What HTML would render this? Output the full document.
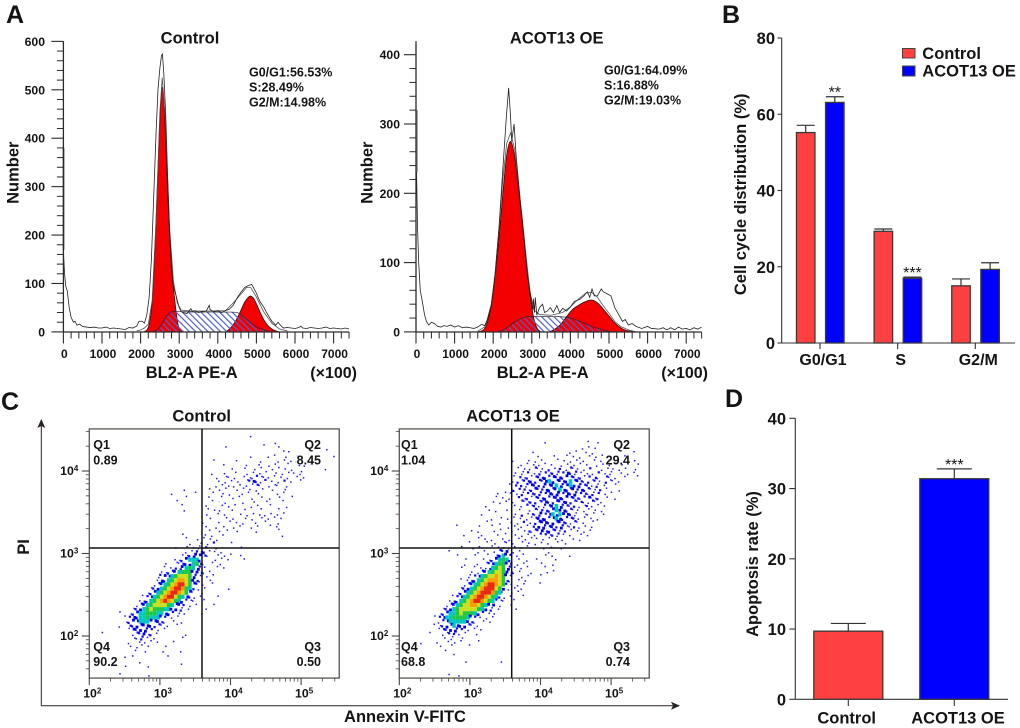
<!DOCTYPE html>
<html lang="en">
<head>
<meta charset="utf-8">
<title>ACOT13 OE cell cycle and apoptosis</title>
<style>
html,body{margin:0;padding:0;background:#fff;}
svg{display:block;filter:blur(0.35px);}
text{font-family:"Liberation Sans",Arial,sans-serif;font-weight:bold;fill:#141414;}
</style>
</head>
<body>
<svg id="fig" xmlns="http://www.w3.org/2000/svg" width="1020" height="728" viewBox="0 0 1020 728">
<defs>
<pattern id="sHatch" patternUnits="userSpaceOnUse" width="4.4" height="4.4" patternTransform="rotate(-45)">
<rect width="1.2" height="4.4" fill="#4f5fc8"/>
</pattern>
<marker id="arrowHead" markerWidth="9" markerHeight="9" refX="8" refY="4" orient="auto" markerUnits="userSpaceOnUse">
<path d="M0,0 L9,4 L0,8 L2,4 Z" fill="#2a2420"/>
</marker>
</defs>
<rect width="1020" height="728" fill="#fff"/>

<text x="6" y="23" font-size="25">A</text>
<text x="722" y="23" font-size="25">B</text>
<text x="1" y="410" font-size="25">C</text>
<text x="725" y="407" font-size="25">D</text>

<text x="190" y="43.5" font-size="16.5" text-anchor="middle">Control</text>
<text x="556.7" y="43.5" font-size="16.5" text-anchor="middle">ACOT13 OE</text>
<text transform="translate(18.5,172.7) rotate(-90)" font-size="16.5" text-anchor="middle">Number</text>
<text transform="translate(372.7,172.7) rotate(-90)" font-size="16.5" text-anchor="middle">Number</text>
<text x="191.7" y="378" font-size="16.5" text-anchor="middle">BL2-A PE-A</text>
<text x="542.7" y="378" font-size="16.5" text-anchor="middle">BL2-A PE-A</text>
<text x="357" y="378" font-size="16" text-anchor="end">(×100)</text>
<text x="708" y="378" font-size="16" text-anchor="end">(×100)</text>

<g font-size="12.5">
<text x="249" y="76.7">G0/G1:56.53%</text>
<text x="249" y="91.7">S:28.49%</text>
<text x="249" y="106.7">G2/M:14.98%</text>
</g>
<g font-size="12.5">
<text x="604" y="74.7">G0/G1:64.09%</text>
<text x="604" y="89.7">S:16.88%</text>
<text x="604" y="104.7">G2/M:19.03%</text>
</g>

<text x="201.7" y="421.7" font-size="16.5" text-anchor="middle">Control</text>
<text x="513" y="421.7" font-size="16.5" text-anchor="middle">ACOT13 OE</text>
<text transform="translate(29,547) rotate(-90)" font-size="16.5" text-anchor="middle">PI</text>
<text x="405" y="722" font-size="16.5" text-anchor="middle">Annexin V-FITC</text>
<line x1="41.3" y1="705.7" x2="41.3" y2="420" stroke="#2a2420" stroke-width="1" marker-end="url(#arrowHead)"/>
<line x1="41.3" y1="705.7" x2="679" y2="705.7" stroke="#2a2420" stroke-width="1" marker-end="url(#arrowHead)"/>

<text transform="translate(746,194.3) rotate(-90)" font-size="16.5" text-anchor="middle">Cell cycle distribution (%)</text>
<g>
<rect x="902.5" y="48.5" width="12.5" height="9.5" fill="#ff4040" stroke="#444" stroke-width="1"/>
<text x="922.3" y="59" font-size="16.5">Control</text>
<rect x="902.5" y="66" width="12.5" height="10" fill="#0000ff" stroke="#444" stroke-width="1"/>
<text x="922.3" y="76.7" font-size="16.5">ACOT13 OE</text>
</g>
<text transform="translate(758,564) rotate(-90)" font-size="16.5" text-anchor="middle">Apoptosis rate (%)</text>
</svg>

<script>
// ---------- Panel A: histogram data (channel ×100, cell count) ----------
const histXTicks = [0, 1000, 2000, 3000, 4000, 5000, 6000, 7000];
const histControlYTicks = [0, 100, 200, 300, 400, 500, 600];
const histAcotYTicks = [0, 100, 200, 300, 400];

const controlMeasured = [[0,170],[30,120],[60,95],[100,85],[150,50],[200,30],[260,20],[300,22],[350,14],[420,16],[500,11],[600,10],[700,9],[800,10],[900,8],[1000,8],[1100,10],[1200,7],[1300,8],[1400,7],[1500,6],[1600,5],[1700,9],[1800,8],[1900,12],[1960,22],[2040,22],[2100,18],[2160,35],[2220,70],[2280,150],[2340,280],[2400,410],[2450,500],[2500,545],[2540,570],[2565,575],[2600,535],[2650,450],[2700,320],[2750,210],[2800,140],[2840,100],[2880,85],[2920,75],[2960,62],[3000,50],[3050,42],[3100,40],[3200,38],[3300,48],[3350,42],[3400,44],[3500,40],[3600,42],[3700,43],[3780,55],[3800,46],[3900,42],[4000,44],[4100,40],[4200,44],[4300,47],[4400,55],[4500,70],[4600,82],[4700,92],[4800,96],[4880,98],[4920,92],[5000,80],[5050,70],[5100,62],[5200,50],[5250,42],[5300,35],[5400,22],[5500,14],[5560,20],[5620,14],[5700,8],[5800,9],[5900,8],[6000,7],[6100,9],[6150,12],[6200,8],[6300,7],[6400,9],[6500,8],[6600,7],[6700,8],[6800,10],[6900,7],[7000,8],[7100,7],[7200,6],[7300,8],[7400,6]];
const controlFit = [[1900,2],[2000,4],[2100,8],[2200,16],[2300,65],[2400,230],[2500,455],[2560,525],[2640,440],[2750,215],[2850,105],[2950,60],[3050,45],[3300,43],[3800,43],[4200,44],[4400,60],[4600,78],[4750,92],[4850,92],[5000,72],[5200,40],[5400,18],[5600,6],[5800,2]];
const controlG1 = [[2060,0],[2150,3],[2220,15],[2300,62],[2360,150],[2420,270],[2480,400],[2530,485],[2565,505],[2600,480],[2650,400],[2700,290],[2760,190],[2820,115],[2880,70],[2930,35],[2980,12],[3050,2],[3100,0]];
const controlS = [[2300,0],[2420,4],[2520,12],[2620,26],[2720,37],[2820,42],[3000,42],[3400,41],[3800,41],[4200,41],[4500,40],[4650,32],[4800,22],[4950,13],[5100,7],[5250,3],[5400,0]];
const controlG2 = [[4200,0],[4300,6],[4400,15],[4500,28],[4600,45],[4700,62],[4800,72],[4850,74],[4920,70],[5000,58],[5100,40],[5200,24],[5300,13],[5400,6],[5500,2],[5600,0]];
const controlDebris = [[5,170],[5,380]];

const acotMeasured = [[15,230],[40,150],[70,100],[110,60],[160,45],[220,25],[270,15],[330,10],[400,14],[480,12],[560,8],[650,7],[720,9],[800,8],[900,10],[1000,7],[1100,9],[1200,6],[1300,7],[1400,6],[1500,5],[1600,7],[1700,11],[1780,9],[1850,18],[1950,38],[2050,85],[2150,150],[2250,235],[2340,310],[2400,352],[2450,310],[2480,275],[2540,300],[2600,250],[2700,190],[2800,135],[2880,85],[2960,55],[3020,32],[3040,48],[3070,28],[3090,50],[3130,24],[3200,35],[3280,40],[3330,28],[3400,30],[3480,35],[3560,28],[3650,38],[3720,28],[3800,34],[3900,30],[4000,36],[4100,44],[4250,47],[4350,52],[4440,58],[4500,50],[4560,62],[4620,52],[4700,52],[4800,62],[4850,58],[4950,55],[5050,52],[5150,35],[5250,25],[5350,15],[5420,18],[5500,10],[5600,12],[5700,8],[5850,5],[6000,8],[6100,5],[6300,4],[6400,6],[6500,3],[6600,6],[6700,3],[6800,7],[6900,4],[7000,5],[7100,3],[7200,6],[7300,4],[7400,7]];
const acotFit = [[1600,1],[1800,8],[1950,40],[2050,82],[2150,150],[2250,220],[2350,272],[2450,287],[2550,265],[2650,215],[2750,165],[2850,110],[2950,60],[3050,32],[3200,25],[3500,24],[3800,28],[4000,36],[4200,47],[4400,56],[4550,57],[4700,50],[4850,38],[5000,27],[5150,15],[5300,8],[5500,3],[5700,0]];
const acotG1 = [[1600,0],[1750,3],[1850,14],[1950,38],[2050,80],[2150,135],[2250,200],[2350,255],[2450,275],[2550,255],[2650,210],[2750,160],[2850,105],[2950,55],[3050,20],[3150,4],[3250,0]];
const acotS = [[2100,0],[2300,4],[2500,12],[2700,19],[2900,22],[3300,22],[3700,22],[4000,20],[4300,14],[4600,7],[4900,2],[5100,0]];
const acotG2 = [[3450,0],[3600,4],[3750,11],[3900,22],[4050,32],[4200,38],[4400,44],[4550,46],[4700,42],[4850,33],[5000,23],[5150,13],[5300,6],[5450,2],[5650,0]];
const acotDebris = [[20,230],[20,320]];

// ---------- Panel B / D: bar data ----------
const cycleCategories = ['G0/G1', 'S', 'G2/M'];
const cycleControl = [55.2, 29.3, 15.0];
const cycleAcot = [63.1, 17.0, 19.3];
const cycleControlErr = [1.9, 0.6, 1.8];
const cycleAcotErr = [1.5, 0.3, 1.75];
const cycleStars = ['', '', ''];
const cycleAcotStars = ['**', '***', ''];
const cycleYTicks = [0, 20, 40, 60, 80];

const apoptosisCategories = ['Control', 'ACOT13 OE'];
const apoptosisValues = [9.7, 31.4];
const apoptosisErr = [1.1, 1.4];
const apoptosisStars = ['', '***'];
const apoptosisYTicks = [0, 10, 20, 30, 40];

// ---------- Panel C: flow-cytometry density bins ----------
// Each row spans log10(PI) 0.05 decades, from 4.5 downward; each char spans
// log10(Annexin) 0.05 decades from 2.0. . empty, 0 pale, 1 sparse ... 8 peak density.
const flowExponentsX = [2, 3, 4, 5];
const flowExponentsY = [2, 3, 4];
const controlQuadrants = [['Q1','0.89'],['Q2','8.45'],['Q4','90.2'],['Q3','0.50']];
const acotQuadrants = [['Q1','1.04'],['Q2','29.4'],['Q4','68.8'],['Q3','0.74']];
const controlDensity = [
"",
".......... .......... .......... .......... .....1",
"",
".......... .......... .......... .......... .........1 ..1",
".......... .......... .......... ........1. .......... ...1...... .......1",
".......... .......... .......... .......... .......... .....11...",
".......... .......... .......... .......... .....1.... 1.1..1..00 .........1",
".......... .......... .......... .....1.... .1......1. ...1.1.100 00",
".......... .......... .......... ........1. ....1...1. 1.1...1..1 1000",
".......... .......... .......... .......... 1...1.1.1. .1.1.1.1.. ......1",
".......... .......... .......... ....1...1. .1..1.1.1. 1.1.1.11.1 1",
".......... .......... .......... ......1.11 .1.1.11211 1.1.1.1.1. 1",
".......... .......... .......... ......1.1. 1.1.123212 .1.1.2.1.1",
".......... .......... .......... .....1.1.1 1.1.1.121. 1.11.1....",
".......... .......... ......1... ....1.1.1. .1.1.1.1.1 .1...1....",
".......... .......... ...1...... 1....1.1.1 ...1.1.1.. ...1.1....",
".......... .......... .......1.. ...1...1.. 1.1...1.1. .1.1...1..",
".......... .......... ....1..... ....1.0.1. ...1..1... 1...1.....",
".......... .......... ......1... ...1.0.1.1 .1...1.1.. .1...1....",
".......... .......... ......1... ...1.11... 1...1...1. ...1......",
".......... .......... .......... ...1..1.1. ..1.1.1.11 .1.1.1....",
".......... .......... .......... ....1...1. 1...1.1.1. 1.1.1.....",
".......... .......... .......... ..1...1..1 .1.1...1.1 ...1......",
".......... .......... .......... ...1.1..1. 1.1..1.1.. .1.1......",
".......... .......... .......... ....1.1..1 .1.....1.. ...1......",
".......... .......... ......1... ..1.1..1.. .......... ....1.....",
".......... .......... .......1.. 1.1.1.1... ..........",
".......... .......... ........1. .1.1.2.... 1.........",
".......... .......... ....1..1.1 11.2.1.... ...1",
".......... .......... .......1.1 223.11.1.. .",
".......... .......... ......1123 3321..1.1. 1.1",
".......... .......... ....112344 43...1.1.1 ...1",
".......... .......... .1..112334 521.1..1..",
".......... .......... .1.1223454 321...1.1.",
".......... .......... 1122345553 321.1.....",
".......... .........1 2334566653 21.1.1....",
".......... .........1 3345677653 21..1.....",
".......... ........12 3456788653 2.1.1.....",
".......... .......123 4567887542 1.1......1",
".......... ......1234 5678876531 .1.......",
".......... .....12345 6788654321 .1....1",
".......... ....123456 7876543211 ..1",
".......... ...1234566 6654332.1. 1....1",
".......... ..12345655 5443321.1. ...1",
"........1. .123445554 4332.11... .1",
".......... 1233445444 32.1.1....",
".......... 1233444333 21.1..1...",
"........1. .223333322 1.1.1.....",
".......... .1323322.1 .1....",
"...1...... ..122312.1 .......1..",
".......... ..11221.1. ......1",
".......... .1..11.1.1 ...1...",
".......... .1.11.1... .1",
".......... ...1.1.... 1....1..",
".......... ..1....... ..1..",
".......... 1......... .......",
".......... ....1..... ......1",
".......... 1.....1...",
"",
"........1. ......1..."
];
const acotDensity = [
"",
"",
".......... .......... .......... .......... .......... ...1",
".......... .......... .......... .......... .1........ ......1",
".......... .......... .......... .......... .......... .1.1.1..",
".......... .......... .......... .......1.. ........1. 1.1.1..... ......1",
".......... .......... .......... .........1 ...1...1.1 .1.1.1.1.0 0..1",
".......... .......... .......... ..1...1.1. 1...1.1.1. 1.1..1.1.1 0000..1",
".......... .......... .......... ....1.1.11 .1.1.1.1.1 .1.1.1.1.1 .1.1...1",
".......... .......... .......... ...1.11.21 1.2.12.121 1.1.2..1.1 1.1.1.1",
".......... .......... .......... ..1.112.12 1212122321 21.11.2.11 1.1.1.1",
".......... .......... .......... ..1.212122 2323232322 1212.21.21 .1.1...1",
".......... .......... .......... ..12122322 2343232342 3212121.21 1.1",
".......... .......... .......... .1.2212322 2323432343 3222121.1. .1",
".......... .......... .......... .12.221232 2332343323 2322112.1. ..1",
".......... .......... .......1.. 11.1212222 2232332323 2221212.1. 1",
".......... .......... .......1.1 .1.2.12122 2323232322 2123112.1. .1",
".......... .......... ......1.1. 1.1.211221 2322322322 121121.1..",
".......... .......... ....1..... ..1.1.2121 1223432212 1.121.1.1.",
".......... .......... .....1.1.. 1...1.1.21 2223433221 1.11.1.1..",
".......... .......... ...1...... ..1.2.1212 3234343321 1.11.1.1..",
".......... .......... ......1.1. 1.1.1.1123 2323432222 1.1.1.1...",
".......... .......... ....1...1. .1.1.2.123 3323332212 1.1.1.....",
".......... ......1... ..1...1... 1.1.1.1.23 3223232112 1.1.1.....",
".......... .......... 1.1...1.1. .1.1.12122 3232212.1. 1.1.1...",
".......... ........1. ...1...1.. 1.1.1.1.1. 2212121.1. .1.1....",
".......... .......... ..1.1.1..1 .1.1.1.11. 1.1.1.1..1 .1......",
".......... .........1 ....1..1.1 1.1.1.1.1. 1.1.1..1.. ........",
".......... .......1.. 1.1...1.11 1.1.1.1... 1..1.1....",
".......... ....1..... ..1.1.1.22 3.1.1..... ..1....",
".......... ......1... .1...1.234 32.1.1.... .1.1....1.",
".......... ........1. ...1.12345 42.1..1.1. ....1",
".......... ........1. ..1.123455 32.1.1.... 1..1",
".......... .......1.. .1.1134565 321.1.1... .1",
".......... .......... 1.12345665 321.1..1.. .1.1",
".......... .........1 1234566765 31..1.1... 1",
".......... .......1.1 2345677765 21.1.1....",
".......... ........12 3456788765 21.1.1...1",
".......... .......123 4567888653 1.1.1.....",
".......... ......1234 5678887541 .1.1......",
".......... .....12345 6788765421 .1...1",
".......... ....123456 7887654211 ..1",
".......... ...1234566 7765433.1. .1",
".......... ..12345666 6654321.1. ...1",
".......... .123445655 5432.11...",
".......... 1234455554 321.1.1...",
".......... .123444443 21.1.1....",
".........1 .123343332 1.1...",
".......... .1223322.1 .1.1...",
"........1. ..11221.1. .1",
".......... ..1.11.1..",
"......1... 1..1.1.1.. ..1",
".......... .1..1....1",
".......... ...1......",
".......... .....1....",
"",
".......... ........1. ........1.",
"",
"",
".......... ....1.1..."
];

// ---------- helpers ----------
const svg = document.getElementById('fig');
const NS = 'http://www.w3.org/2000/svg';
function add(tag, attrs, parent, name) {
  const el = document.createElementNS(NS, tag);
  for (const k in attrs) el.setAttribute(k, attrs[k]);
  
  
  (parent || svg).appendChild(el);
  return el;
}
function label(parent, name, x, y, str, size, anchor, weight) {
  const t = add('text', {x: x, y: y, 'font-size': size, 'text-anchor': anchor}, parent, name);
  if (weight) t.style.fontWeight = weight;
  t.textContent = str;
  return t;
}
function pathOf(points, sx, sy, close) {
  return points.map((p, i) => (i ? 'L' : 'M') + sx(p[0]).toFixed(2) + ',' + sy(p[1]).toFixed(2)).join(' ') + (close ? ' Z' : '');
}
function smoothPathOf(points, sx, sy) {
  const pts = points.map(p => [sx(p[0]), sy(p[1])]);
  let d = 'M' + pts[0][0].toFixed(2) + ',' + pts[0][1].toFixed(2);
  for (let i = 0; i < pts.length - 1; i++) {
    const p0 = pts[Math.max(i - 1, 0)], p1 = pts[i], p2 = pts[i + 1], p3 = pts[Math.min(i + 2, pts.length - 1)];
    const c1x = p1[0] + (p2[0] - p0[0]) / 6, c1y = p1[1] + (p2[1] - p0[1]) / 6;
    const c2x = p2[0] - (p3[0] - p1[0]) / 6, c2y = p2[1] - (p3[1] - p1[1]) / 6;
    d += ' C' + c1x.toFixed(2) + ',' + c1y.toFixed(2) + ' ' + c2x.toFixed(2) + ',' + c2y.toFixed(2) + ' ' + p2[0].toFixed(2) + ',' + p2[1].toFixed(2);
  }
  return d + ' Z';
}

// ---------- histogram panels ----------
function drawHist(cfg) {
  const g = add('g', {}, svg, cfg.name);
  const sx = v => cfg.x0 + v * 0.0386;
  const sy = v => 331.9 - v * cfg.yScale;
  add('path', {d: smoothPathOf(cfg.g1, sx, sy), fill: '#f50000', stroke: '#301010', 'stroke-width': 0.8}, g, 'g1-peak');
  add('path', {d: smoothPathOf(cfg.g2, sx, sy), fill: '#f50000', stroke: '#301010', 'stroke-width': 0.8}, g, 'g2-peak');
  add('path', {d: smoothPathOf(cfg.s, sx, sy), fill: 'url(#sHatch)', stroke: '#2a2040', 'stroke-width': 0.7}, g, 's-phase-hatch');
  add('path', {d: pathOf(cfg.fit, sx, sy, false), fill: 'none', stroke: '#555', 'stroke-width': 0.8}, g, 'model-fit-line');
  add('path', {d: pathOf(cfg.measured, sx, sy, false), fill: 'none', stroke: '#222', 'stroke-width': 0.8}, g, 'measured-line');
  add('path', {d: pathOf(cfg.debris, sx, sy, false), fill: 'none', stroke: '#8a8a8a', 'stroke-width': 2}, g, 'debris-spike');

  const axisColor = '#2a2a2a';
  add('line', {x1: sx(0), x2: sx(0), y1: 41.3, y2: 332, stroke: axisColor, 'stroke-width': 1.3}, g, 'y-axis');
  add('line', {x1: sx(0), x2: sx(7400), y1: 332, y2: 332, stroke: axisColor, 'stroke-width': 1.3}, g, 'x-axis');
  cfg.yTicks.forEach(v => {
    add('line', {x1: sx(0) - 12, x2: sx(0), y1: sy(v), y2: sy(v), stroke: axisColor, 'stroke-width': 1.1}, g, 'y-major-tick');
    label(g, 'y-tick-label', cfg.yLabelX, sy(v) + 4.5, String(v), 12.2, 'end');
    for (let m = 1; m < 5; m++) {
      const mv = v + m * 20;
      if (sy(mv) > 41) {
        add('line', {x1: sx(0) - 6.5, x2: sx(0), y1: sy(mv), y2: sy(mv), stroke: axisColor, 'stroke-width': 1}, g, 'y-minor-tick');
      }
    }
  });
  histXTicks.forEach(v => {
    add('line', {x1: sx(v), x2: sx(v), y1: 332, y2: 343.5, stroke: axisColor, 'stroke-width': 1.1}, g, 'x-major-tick');
    label(g, 'x-tick-label', sx(v) + 1, 358, String(v), 12, 'middle');
    for (let m = 1; m < 5; m++) {
      const mv = v + m * 200;
      if (mv <= 7400) {
        add('line', {x1: sx(mv), x2: sx(mv), y1: 332, y2: 338.5, stroke: axisColor, 'stroke-width': 1}, g, 'x-minor-tick');
      }
    }
  });
}
drawHist({name: 'histogram-control', x0: 63.4, yScale: 0.4842, yLabelX: 45, yTicks: histControlYTicks,
  g1: controlG1, s: controlS, g2: controlG2, fit: controlFit, measured: controlMeasured, debris: controlDebris});
drawHist({name: 'histogram-acot13', x0: 416, yScale: 0.693, yLabelX: 400, yTicks: histAcotYTicks,
  g1: acotG1, s: acotS, g2: acotG2, fit: acotFit, measured: acotMeasured, debris: acotDebris});

// ---------- flow panels ----------
const levelColors = {'0': '#cfd2ff', '1': '#1c1cff', '2': '#0808ff', '3': '#0000f0', '4': '#00c8c0', '5': '#20c840', '6': '#c8e020', '7': '#ff9c00', '8': '#e82810'};
const levelSizes = {'0': 1.6, '1': 1.5, '2': 2.2, '3': 2.8, '4': 3.6, '5': 3.6, '6': 3.6, '7': 3.6, '8': 3.6};
function drawFlow(cfg) {
  const g = add('g', {}, svg, cfg.name);
  const sx = lg => cfg.x0 + (lg - 2) * 70.6;
  const sy = lg => 636 - (lg - 2) * 82.5;
  const left = sx(2), right = sx(5.54), top = sy(4.51), bottom = sy(1.49);
  add('rect', {x: left, y: top, width: right - left, height: bottom - top, fill: '#fff', stroke: '#5a5650', 'stroke-width': 1.3}, g, 'plot-frame');

  const cells = add('g', {}, g, 'density-cells');
  cfg.density.forEach((rawRow, r) => {
    const row = rawRow.replace(/ /g, '');
    for (let c = 0; c < row.length; c++) {
      const ch = row[c];
      if (ch === '.') continue;
      const size = levelSizes[ch];
      const sparse = size < 3;
      const cx = sx(2 + (c + 0.5) * 0.05) + (sparse ? ((c * 7 + r * 13) % 5 - 2) * 0.7 : 0);
      const cy = sy(4.5 - (r + 0.5) * 0.05) + (sparse ? ((c * 11 + r * 3) % 5 - 2) * 0.7 : 0);
      const h = sparse ? size : 4.2;
      add('rect', {x: (cx - size / 2).toFixed(2), y: (cy - h / 2).toFixed(2), width: size, height: h, fill: levelColors[ch]}, cells, 'density-cell');
    }
  });

  add('line', {x1: cfg.vLine, x2: cfg.vLine, y1: top, y2: bottom, stroke: '#111', 'stroke-width': 1.5}, g, 'quadrant-vertical-line');
  add('line', {x1: left, x2: right, y1: 548, y2: 548, stroke: '#111', 'stroke-width': 1.5}, g, 'quadrant-horizontal-line');

  const tickColor = '#444';
  flowExponentsX.forEach(e => {
    add('line', {x1: sx(e), x2: sx(e), y1: bottom, y2: bottom + 7, stroke: tickColor, 'stroke-width': 1.1}, g, 'x-major-tick');
    const t = label(g, 'x-tick-label', sx(e) + 3, 697.7, '10', 12.3, 'middle');
    const sup = add('tspan', {dy: -4, 'font-size': 8}, t, 'x-tick-exponent');
    sup.textContent = String(e);
    for (let m = 2; m < 10; m++) {
      const lg = e + Math.log10(m);
      if (lg < 5.54) {
        add('line', {x1: sx(lg), x2: sx(lg), y1: bottom, y2: bottom + 3.5, stroke: tickColor, 'stroke-width': 0.8}, g, 'x-minor-tick');
      }
    }
  });
  flowExponentsY.forEach(e => {
    add('line', {x1: left - 7.5, x2: left, y1: sy(e), y2: sy(e), stroke: tickColor, 'stroke-width': 1.1}, g, 'y-major-tick');
    const t = label(g, 'y-tick-label', left - 11, sy(e) + 3.8, '10', 12.3, 'end');
    const sup = add('tspan', {dy: -4, 'font-size': 8}, t, 'y-tick-exponent');
    sup.textContent = String(e);
  });
  [1, 2, 3, 4].forEach(e => {
    for (let m = 2; m < 10; m++) {
      const lg = e + Math.log10(m);
      if (lg > 1.49 && lg < 4.51) {
        add('line', {x1: left - 3.5, x2: left, y1: sy(lg), y2: sy(lg), stroke: tickColor, 'stroke-width': 0.8}, g, 'y-minor-tick');
      }
    }
  });

  const spots = [[cfg.qLeft, 'start', 449, 464.3], [cfg.qRight, 'end', 449, 464.3], [cfg.qLeft, 'start', 651, 666], [cfg.qRight, 'end', 651, 666]];
  cfg.quadrants.forEach((q, i) => {
    const s = spots[i];
    label(g, 'quadrant-name', s[0], s[2], q[0], 12.5, s[1]);
    label(g, 'quadrant-percent', s[0], s[3], q[1], 12.5, s[1]);
  });
}
drawFlow({name: 'flow-control', x0: 89.3, vLine: 202, qLeft: 93.3, qRight: 321, density: controlDensity, quadrants: controlQuadrants});
drawFlow({name: 'flow-acot13', x0: 399.3, vLine: 511.7, qLeft: 401, qRight: 630, density: acotDensity, quadrants: acotQuadrants});

// ---------- bar panels ----------
function drawBar(parent, name, x, w, value, err, sy, fill, stars, capHalf) {
  const top = sy(value), base = sy(0), tip = sy(value + err);
  add('line', {x1: x, x2: x, y1: top, y2: tip, stroke: '#333', 'stroke-width': 1.2}, parent, name + '-error-stem');
  add('line', {x1: x - capHalf, x2: x + capHalf, y1: tip, y2: tip, stroke: '#333', 'stroke-width': 1.2}, parent, name + '-error-cap');
  add('rect', {x: x - w / 2, y: top, width: w, height: base - top, fill: fill, stroke: '#3a3a3a', 'stroke-width': 1.3}, parent, name);
  if (stars) {
    label(parent, name + '-significance', x, tip + 1, stars, 16, 'middle', 'normal');
  }
}

const barB = add('g', {}, svg, 'bar-chart-cycle');
const syB = v => 343 - v * 3.8125;
add('line', {x1: 781.7, x2: 781.7, y1: syB(80), y2: syB(0), stroke: '#333', 'stroke-width': 1.1}, barB, 'y-axis');
add('line', {x1: 781.7, x2: 1015, y1: syB(0), y2: syB(0), stroke: '#333', 'stroke-width': 1.1}, barB, 'x-axis');
cycleYTicks.forEach(v => {
  add('line', {x1: 777.5, x2: 781.7, y1: syB(v), y2: syB(v), stroke: '#333', 'stroke-width': 1.1}, barB, 'y-tick');
  label(barB, 'y-tick-label', 775, syB(v) + 6, String(v), 16.5, 'end');
});
cycleCategories.forEach((cat, i) => {
  const cx = 820 + i * 77.65;
  add('line', {x1: cx, x2: cx, y1: 343, y2: 349, stroke: '#333', 'stroke-width': 1.1}, barB, 'x-tick');
  label(barB, 'x-tick-label', cx + 3, 365, cat, 16, 'middle');
  drawBar(barB, 'bar-control', cx - 14.3, 18.5, cycleControl[i], cycleControlErr[i], syB, '#ff4040', cycleStars[i], 9);
  drawBar(barB, 'bar-acot13', cx + 14.8, 18.5, cycleAcot[i], cycleAcotErr[i], syB, '#0000ff', cycleAcotStars[i], 9);
});

const barD = add('g', {}, svg, 'bar-chart-apoptosis');
const syD = v => 699.3 - v * 7.025;
add('line', {x1: 795.3, x2: 795.3, y1: syD(40), y2: syD(0), stroke: '#333', 'stroke-width': 1.1}, barD, 'y-axis');
add('line', {x1: 795.3, x2: 1008, y1: syD(0), y2: syD(0), stroke: '#333', 'stroke-width': 1.1}, barD, 'x-axis');
apoptosisYTicks.forEach(v => {
  add('line', {x1: 789.3, x2: 795.3, y1: syD(v), y2: syD(v), stroke: '#333', 'stroke-width': 1.1}, barD, 'y-tick');
  label(barD, 'y-tick-label', 786, syD(v) + 6, String(v), 16.5, 'end');
});
apoptosisCategories.forEach((cat, i) => {
  const cx = 848.3 + i * 106;
  add('line', {x1: cx, x2: cx, y1: 699.3, y2: 706, stroke: '#333', 'stroke-width': 1.1}, barD, 'x-tick');
  label(barD, 'x-tick-label', cx + (i ? 3.7 : -1.6), 723.3, cat, 16.5, 'middle');
  drawBar(barD, i ? 'bar-acot13' : 'bar-control', cx, 69, apoptosisValues[i], apoptosisErr[i], syD, i ? '#0000ff' : '#ff4040', apoptosisStars[i], 17.5);
});
</script>
</body>
</html>
